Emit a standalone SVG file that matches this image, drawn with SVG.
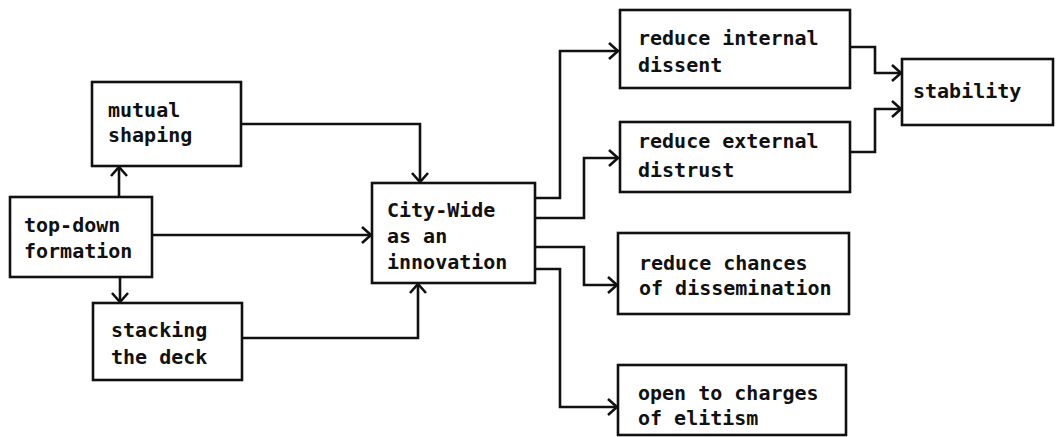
<svg xmlns="http://www.w3.org/2000/svg" width="1061" height="437" viewBox="0 0 1061 437">
<style>
.box{fill:none;stroke:#111;stroke-width:2.6}
.t{font-family:"DejaVu Sans Mono","Liberation Mono",monospace;font-size:20px;font-weight:bold;fill:#111}
.c{fill:none;stroke:#111;stroke-width:2.6;stroke-linejoin:miter}
</style>
<defs>
<marker id="a" markerUnits="userSpaceOnUse" markerWidth="14" markerHeight="18" refX="11" refY="9" orient="auto" viewBox="0 0 14 18">
<path d="M2,1 L11,9 L2,17" fill="none" stroke="#111" stroke-width="2.6"/>
</marker>
</defs>
<rect width="1061" height="437" fill="#fff"/>
<g id="connectors">
<path class="c" d="M119,197 V167" marker-end="url(#a)"/>
<path class="c" d="M120,277 V302" marker-end="url(#a)"/>
<path class="c" d="M241,124 H420 V182" marker-end="url(#a)"/>
<path class="c" d="M152,235 H371" marker-end="url(#a)"/>
<path class="c" d="M242,338 H418 V284" marker-end="url(#a)"/>
<path class="c" d="M535,198 H560 V51 H618" marker-end="url(#a)"/>
<path class="c" d="M535,218 H584 V158 H618" marker-end="url(#a)"/>
<path class="c" d="M535,247 H584 V285 H617" marker-end="url(#a)"/>
<path class="c" d="M535,269 H560 V407 H617" marker-end="url(#a)"/>
<path class="c" d="M850,47 H875 V73 H901" marker-end="url(#a)"/>
<path class="c" d="M850,152 H875 V109 H901" marker-end="url(#a)"/>
</g>
<g id="mutual-shaping">
<rect class="box" x="92" y="82" width="149" height="84"/>
<text class="t" x="108" y="117">mutual</text>
<text class="t" x="108" y="142">shaping</text>
</g>
<g id="top-down-formation">
<rect class="box" x="10" y="197" width="142" height="80"/>
<text class="t" x="24" y="232">top-down</text>
<text class="t" x="24" y="258">formation</text>
</g>
<g id="stacking-the-deck">
<rect class="box" x="93" y="303" width="149" height="77"/>
<text class="t" x="111" y="337">stacking</text>
<text class="t" x="111" y="364">the deck</text>
</g>
<g id="city-wide">
<rect class="box" x="372" y="183" width="163" height="100"/>
<text class="t" x="387" y="217">City-Wide</text>
<text class="t" x="387" y="243">as an</text>
<text class="t" x="387" y="269">innovation</text>
</g>
<g id="reduce-internal-dissent">
<rect class="box" x="620" y="10" width="230" height="78"/>
<text class="t" x="638" y="45">reduce internal</text>
<text class="t" x="638" y="72">dissent</text>
</g>
<g id="reduce-external-distrust">
<rect class="box" x="620" y="122" width="230" height="70"/>
<text class="t" x="638" y="148">reduce external</text>
<text class="t" x="638" y="177">distrust</text>
</g>
<g id="reduce-chances">
<rect class="box" x="618" y="233" width="231" height="81"/>
<text class="t" x="639" y="270">reduce chances</text>
<text class="t" x="639" y="295">of dissemination</text>
</g>
<g id="open-to-charges">
<rect class="box" x="618" y="365" width="228" height="70"/>
<text class="t" x="638" y="400">open to charges</text>
<text class="t" x="638" y="425">of elitism</text>
</g>
<g id="stability">
<rect class="box" x="902" y="59" width="151" height="66"/>
<text class="t" x="913" y="98">stability</text>
</g>
</svg>
